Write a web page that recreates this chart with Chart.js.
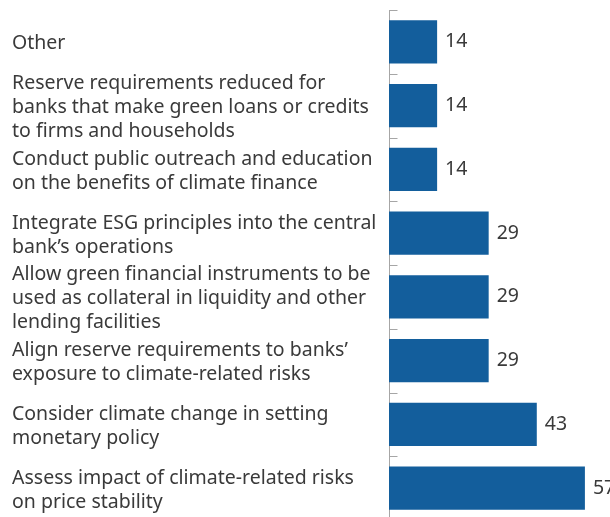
<!DOCTYPE html>
<html>
<head>
<meta charset="utf-8">
<script src="https://cdn.jsdelivr.net/npm/chart.js@4/dist/chart.umd.min.js"></script>
<style>
  html, body { margin: 0; padding: 0; background: #fff; overflow: hidden; }
  #wrap { width: 610px; height: 517px; overflow: hidden; }
</style>
</head>
<body>
<div id="wrap"><canvas id="grafico" width="610" height="520"></canvas></div>
<script>
// categorie (dall'alto verso il basso), etichette su più righe
const categorie = [
  ["Other"],
  ["Reserve requirements reduced for", "banks that make green loans or credits", "to firms and households"],
  ["Conduct public outreach and education", "on the benefits of climate finance"],
  ["Integrate ESG principles into the central", "bank\u2019s operations"],
  ["Allow green financial instruments to be", "used as collateral in liquidity and other", "lending facilities"],
  ["Align reserve requirements to banks\u2019", "exposure to climate-related risks"],
  ["Consider climate change in setting", "monetary policy"],
  ["Assess impact of climate-related risks", "on price stability"]
];

const valori = [14, 14, 14, 29, 29, 29, 43, 57];

const BLU = "#135e9c";
const TESTO = "#3a3a3a";
const GRIGIO = "#a6a6a6";
const FONT = "'Noto Sans', sans-serif";

// etichette dei valori a destra delle barre
const etichetteValori = {
  id: "etichetteValori",
  afterDatasetsDraw(chart) {
    const ctx = chart.ctx;
    const meta = chart.getDatasetMeta(0);
    ctx.save();
    ctx.font = "19.5px " + FONT;
    ctx.fillStyle = TESTO;
    ctx.textAlign = "left";
    ctx.textBaseline = "middle";
    meta.data.forEach((bar, i) => {
      ctx.fillText(String(valori[i]), bar.x + 8, bar.y);
    });
    ctx.restore();
  }
};

// piccole tacche sull'asse, tra una categoria e l'altra
const tacche = {
  id: "tacche",
  afterDraw(chart) {
    const y = chart.scales.y;
    const ctx = chart.ctx;
    const passo = y.getPixelForValue(1) - y.getPixelForValue(0);
    const x0 = Math.round(chart.chartArea.left) + 0.5;
    ctx.save();
    ctx.strokeStyle = GRIGIO;
    ctx.lineWidth = 1;
    ctx.beginPath();
    for (let i = 0; i <= categorie.length; i++) {
      const py = Math.round(y.getPixelForValue(i) - passo / 2) + 0.5;
      ctx.moveTo(x0, py);
      ctx.lineTo(x0 + 8, py);
    }
    ctx.stroke();
    ctx.restore();
  }
};

new Chart(document.getElementById("grafico").getContext("2d"), {
  type: "bar",
  data: {
    labels: categorie,
    datasets: [{
      data: valori,
      backgroundColor: BLU,
      borderWidth: 0,
      categoryPercentage: 1,
      barPercentage: 0.675
    }]
  },
  options: {
    indexAxis: "y",
    responsive: false,
    animation: false,
    devicePixelRatio: 1,
    layout: { padding: { left: 12, top: 10, right: 0, bottom: 0 } },
    plugins: {
      legend: { display: false },
      tooltip: { enabled: false }
    },
    scales: {
      x: {
        display: false,
        min: 0,
        max: 64.3
      },
      y: {
        afterFit(scale) {
          scale.width = 377;
          scale.paddingTop = 0;
          scale.paddingBottom = 0;
        },
        grid: { display: false },
        border: { display: true, color: GRIGIO, width: 1 },
        ticks: {
          autoSkip: false,
          crossAlign: "far",
          padding: 0,
          labelOffset: 2,
          color: TESTO,
          font: { family: FONT, size: 19.5, lineHeight: 1.23 }
        }
      }
    }
  },
  plugins: [etichetteValori, tacche]
});
</script>
</body>
</html>
